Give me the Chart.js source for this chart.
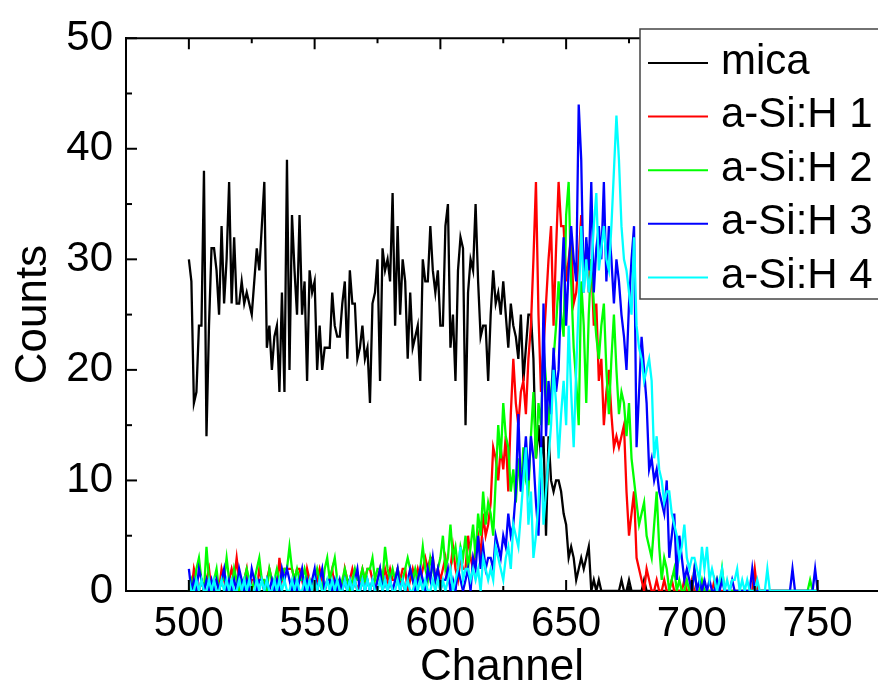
<!DOCTYPE html>
<html><head><meta charset="utf-8">
<script src="https://cdn.jsdelivr.net/npm/chart.js@4/dist/chart.umd.min.js"></script>
<style>html,body{margin:0;padding:0;background:#fff;overflow:hidden}#wrap{width:878px;height:693px;position:relative}</style>
</head><body><div id="wrap"><canvas id="c" width="878" height="693"></canvas></div>
<script>
const startChannel = 500;
const seriesLabels = ['mica', 'a-Si:H 1', 'a-Si:H 2', 'a-Si:H 3', 'a-Si:H 4'];
const seriesColors = ['#000000', '#ff0000', '#00ff00', '#0000ff', '#00ffff'];
const xTickLabels = [500, 550, 600, 650, 700, 750];
const yTickLabels = [0, 10, 20, 30, 40, 50];

const mica = [
30,28,17,18,24,24,38,14,24,31,
31,29,25,33,26,30,37,26,32,26,
26,28,26,27,26,25,28,31,29,33,
37,22,24,20,23,24,18,27,18,39,
20,34,29,25,34,25,28,19,29,27,
28,20,24,20,22,22,22,27,24,23,
23,26,28,21,29,26,26,21,22,24,
21,22,17,26,27,30,19,31,29,30,
28,36,24,33,25,30,28,21,27,22,
23,24,19,30,28,28,33,29,27,29,
24,24,33,35,22,25,19,29,32,31,
15,27,30,29,35,28,23,24,24,19,
25,29,26,27,25,28,25,22,26,24,
23,21,25,19,22,25,25,21,12,15,
12,14,5,14,10,9,10,10,9,7,
6,3,4,3,1,2,3,2,3,4,
0,1,0,1,0,0,0,0,0,0,
0,0,1,0,0,1,0,0,0,0,
0,1,0,0,0,0,0,0,0,0,
0,0,0,0,0,0,0,0,0,0,
0];

const aSiH1 = [
1,0,2,1,0,1,0,1,2,0,
1,1,0,2,1,0,1,2,1,3,
1,0,1,2,0,1,1,0,2,1,
0,1,2,1,1,0,3,1,2,2,
2,2,1,2,2,1,0,2,1,1,
0,1,2,1,0,1,1,2,0,1,
1,0,2,1,1,2,1,0,1,2,
1,2,2,1,0,1,2,1,2,1,
2,1,1,2,1,2,2,0,1,2,
1,2,1,2,3,2,3,3,1,2,
1,2,3,1,2,4,2,1,3,2,
2,5,3,2,4,5,3,7,5,6,
8,13,12,10,13,11,14,9,16,21,
17,15,18,19,16,21,24,30,37,25,
18,22,26,30,33,24,31,37,33,33,
28,30,32,26,27,30,34,29,31,27,
30,24,26,19,21,15,18,20,16,13,
14,13,14,15,9,5,7,9,3,2,
1,0,2,1,0,0,1,0,0,1,
0,0,1,0,0,0,0,1,0,0,
1,0,0,0,0,0,0,0,0,1,
0,0,0,0,0,0,0,0,0,0,
0,0,0,0,0,2,0,0,0,0,
0,0,0,0,0,0,0,0,0,0,
0,0,0,0,0,0,0,0,0,0,
0];

const aSiH2 = [
0,1,0,2,3,1,0,4,1,0,
1,2,0,1,1,3,1,0,2,1,
0,1,1,2,1,0,1,2,3,1,
1,0,2,1,1,2,1,1,2,2,
4,2,1,2,1,1,2,1,0,1,
1,2,1,0,2,3,1,2,3,1,
0,1,2,1,0,1,2,1,1,2,
1,2,2,3,1,2,2,1,4,2,
1,2,1,2,1,1,2,3,2,1,
2,1,2,4,2,1,3,2,1,2,
3,5,2,3,6,3,4,2,4,3,
5,2,4,6,3,7,5,9,6,8,
7,5,10,15,12,17,14,13,9,11,
8,12,9,13,10,9,14,18,12,17,
15,22,19,15,18,21,24,28,25,23,
34,37,28,22,19,15,28,24,17,25,
30,26,23,21,24,26,20,16,21,25,
20,16,18,17,14,17,12,10,8,6,
7,8,5,4,3,6,9,4,1,3,
2,0,1,2,0,1,0,0,1,0,
0,2,0,0,1,0,0,0,0,0,
1,0,2,0,0,0,0,0,0,0,
0,0,0,0,0,0,0,0,0,0,
0,0,0,0,0,0,0,0,0,0,
0,0,0,0,0,0,0,1,0,0,
0];

const aSiH3 = [
2,0,1,0,2,1,0,1,0,1,
0,1,0,1,2,0,1,0,1,0,
2,1,0,1,0,2,1,0,1,1,
0,1,0,1,0,1,0,2,1,2,
1,0,1,0,1,2,0,1,0,1,
2,0,1,2,0,1,1,0,1,0,
1,0,1,0,1,0,1,2,0,1,
0,1,0,1,0,1,2,0,1,0,
1,0,1,2,0,1,0,1,2,1,
0,1,2,1,0,2,1,3,1,2,
0,1,1,2,0,1,0,2,1,0,
1,2,0,3,2,5,2,4,2,3,
3,2,5,4,3,5,4,7,5,6,
9,16,9,11,14,10,14,12,8,5,
12,26,14,19,16,22,18,20,27,32,
24,29,33,30,28,44,39,27,32,29,
37,27,31,33,30,37,28,33,30,26,
30,28,25,23,20,26,30,33,13,18,
23,20,17,11,12,10,11,9,8,7,
10,3,5,7,1,5,3,1,2,1,
0,2,0,1,0,1,0,1,0,0,
1,0,1,0,0,0,1,0,0,0,
0,0,0,0,2,0,0,0,0,0,
0,0,0,0,0,0,0,0,0,0,
2,0,0,0,0,0,0,0,0,2,
0];

const aSiH4 = [
1,0,0,1,0,1,0,0,1,0,
1,0,0,1,0,1,0,1,0,0,
1,0,1,0,1,0,0,1,0,1,
0,1,0,0,1,0,1,0,1,0,
0,1,0,1,0,0,1,0,1,0,
1,0,1,0,0,1,0,1,0,1,
0,0,1,0,1,0,1,0,0,1,
0,1,0,1,0,0,1,0,1,0,
1,0,0,1,0,1,0,1,0,0,
1,0,1,0,1,0,0,1,0,1,
0,1,0,1,2,0,1,2,4,1,
2,2,1,2,1,2,0,3,2,1,
2,1,4,3,2,1,3,4,2,6,
5,4,7,10,13,6,9,3,5,8,
13,6,9,12,15,20,17,12,16,19,
15,24,18,13,20,26,33,27,30,27,
29,33,36,29,31,33,30,29,33,38,
43,39,33,30,29,27,25,32,24,22,
21,19,20,21,19,12,14,11,10,8,
9,9,7,6,5,3,4,6,3,2,
3,3,2,1,4,2,4,1,2,1,
0,1,2,0,1,0,1,1,2,0,
1,0,1,0,0,0,1,0,0,0,
2,0,0,0,0,0,0,0,0,0,
0,0,0,0,0,0,0,0,0,0,
0];

const FONT = "'Liberation Sans', Arial, Helvetica, sans-serif";
const toPts = arr => arr.map((v, i) => ({ x: startChannel + i, y: v }));
const allSeries = [mica, aSiH1, aSiH2, aSiH3, aSiH4];
const datasets = allSeries.map((arr, k) => ({
  label: seriesLabels[k],
  data: toPts(arr),
  borderColor: seriesColors[k],
  backgroundColor: seriesColors[k],
  borderWidth: 2.3,
  pointRadius: 0,
  tension: 0,
  fill: false,
  order: allSeries.length - 1 - k
}));

const framePlugin = {
  id: 'frame',
  afterDatasetsDraw(chart) {
    const { ctx, chartArea: a, scales: { x, y } } = chart;
    ctx.save();
    ctx.strokeStyle = '#000';
    ctx.lineWidth = 2;
    ctx.beginPath();
    ctx.moveTo(a.left - 1, a.top);
    ctx.lineTo(a.right, a.top);
    ctx.stroke();
    for (let v = 475; v <= x.max; v += 25) {
      const px = x.getPixelForValue(v);
      const L = (v % 50 === 0) ? 11 : 5;
      ctx.beginPath();
      ctx.moveTo(px, a.bottom); ctx.lineTo(px, a.bottom - L);
      ctx.moveTo(px, a.top); ctx.lineTo(px, a.top + L);
      ctx.stroke();
    }
    for (let v = 0; v <= 50; v += 5) {
      const py = y.getPixelForValue(v);
      const L = (v % 10 === 0) ? 11 : 6;
      ctx.beginPath();
      ctx.moveTo(a.left, py); ctx.lineTo(a.left + L, py);
      ctx.stroke();
    }
    ctx.restore();
  }
};

const boxLegend = {
  id: 'boxLegend',
  afterDraw(chart) {
    const ctx = chart.ctx;
    const bx = 640, by = 29, bw = 260, bh = 270;
    ctx.save();
    ctx.fillStyle = '#fff';
    ctx.fillRect(bx, by, bw, bh);
    ctx.strokeStyle = '#444';
    ctx.lineWidth = 1.5;
    ctx.strokeRect(bx, by, bw, bh);
    chart.data.datasets.forEach((ds, i) => {
      const cy = 63 + i * 53.6;
      ctx.strokeStyle = ds.borderColor;
      ctx.lineWidth = 2;
      ctx.beginPath(); ctx.moveTo(648, cy); ctx.lineTo(708, cy); ctx.stroke();
      ctx.fillStyle = '#000';
      ctx.font = '42px ' + FONT;
      ctx.textBaseline = 'alphabetic';
      ctx.textAlign = 'left';
      ctx.fillText(ds.label, 721, cy + 10.5);
    });
    ctx.restore();
  }
};

new Chart(document.getElementById('c'), {
  type: 'line',
  data: { datasets },
  options: {
    responsive: false,
    animation: false,
    devicePixelRatio: 1,
    layout: { padding: { top: 31, left: 0, right: 0, bottom: 0 } },
    plugins: { legend: { display: false }, tooltip: { enabled: false } },
    scales: {
      x: {
        type: 'linear', min: 475, max: 774,
        afterBuildTicks: s => { s.ticks = xTickLabels.map(v => ({ value: v })); },
        afterFit: s => { s.height = 102; },
        grid: { display: false, drawTicks: false },
        border: { display: true, color: '#000', width: 2 },
        ticks: { color: '#000', font: { family: FONT, size: 42 }, padding: 8, maxRotation: 0, autoSkip: false },
        title: { display: true, text: 'Channel', color: '#000', font: { family: FONT, size: 44 }, padding: { top: 0, bottom: -1 } }
      },
      y: {
        type: 'linear', min: 0, max: 50,
        afterBuildTicks: s => { s.ticks = yTickLabels.map(v => ({ value: v })); },
        afterFit: s => { s.width = 126; },
        grid: { display: false, drawTicks: false },
        border: { display: true, color: '#000', width: 2 },
        ticks: { color: '#000', font: { family: FONT, size: 42 }, padding: 13 },
        title: { display: true, text: 'Counts', color: '#000', font: { family: FONT, size: 44 }, padding: { top: 7, bottom: 0 } }
      }
    }
  },
  plugins: [framePlugin, boxLegend]
});
</script></body></html>
